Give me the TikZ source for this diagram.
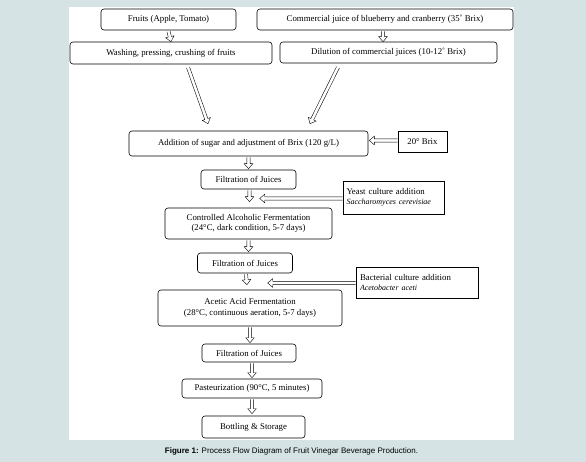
\documentclass[tikz,border=0pt]{standalone}
\usepackage{fontspec}
\setmainfont{Liberation Serif}
\newfontfamily\capfont{Liberation Sans}
\usetikzlibrary{calc}
\definecolor{bgc}{RGB}{213,227,228}
\tikzset{
  rbox/.style={draw=black, line width=0.6pt, rounded corners=3pt, inner sep=0pt, align=center,
     font=\fontsize{8.8}{10.4}\selectfont},
  sbox/.style={draw=black, line width=0.6pt, inner sep=0pt, font=\fontsize{8.8}{10.4}\selectfont},
  arrowline/.style={draw=black, line width=0.4pt, line join=miter}
}
\newcommand\harrow[2]{%
  \path (#1) coordinate (hs) (#2) coordinate (he);
  \path ($(he)!5pt!(hs)$) coordinate (hb);
  \draw[arrowline] ($(hs)!1.6pt!90:(he)$) -- ($(hb)!1.6pt!90:(he)$) -- ($(hb)!4.3pt!90:(he)$) -- (he)
     -- ($(hb)!4.3pt!-90:(he)$) -- ($(hb)!1.6pt!-90:(he)$) -- ($(hs)!1.6pt!-90:(he)$);
}
\begin{document}
\begin{tikzpicture}[x=1pt, y=-1pt]
\useasboundingbox (0,0) rectangle (586,462);
\fill[bgc] (0,0) rectangle (586,462);
\fill[white] (69,7) rectangle (514,440);

\node[rbox, minimum width=135pt, minimum height=21pt] (fruits) at (168.5,19.5) {Fruits (Apple, Tomato)};
\node[rbox, minimum width=256pt, minimum height=21pt] (comm) at (385,19.5) {Commercial juice of blueberry and cranberry (35˚ Brix)};
\node[rbox, minimum width=202pt, minimum height=22pt] (wash) at (171,53) {Washing, pressing, crushing of fruits};
\node[rbox, minimum width=217pt, minimum height=21pt] (dil) at (388.5,52.5) {Dilution of commercial juices (10-12˚ Brix)};
\node[rbox, minimum width=239pt, minimum height=25pt] (add) at (248.5,143.5) {Addition of sugar and adjustment of Brix (120 g/L)};
\node[sbox, minimum width=49pt, minimum height=21pt] (brix) at (422.5,141.5) {20° Brix};
\node[rbox, minimum width=95pt, minimum height=19pt] (filt1) at (248.5,179.5) {Filtration of Juices};
\node[sbox, minimum width=101pt, minimum height=33pt, align=left, text width=94pt] (yeast) at (393.5,197.5)
  {Yeast culture addition\\[-0.5pt]{\fontsize{8}{9.5}\selectfont\itshape Saccharomyces cerevisiae}};
\node[rbox, minimum width=167pt, minimum height=31pt] (ferm) at (248.5,223.5) {Controlled Alcoholic Fermentation\\(24°C, dark condition, 5-7 days)};
\node[rbox, minimum width=95pt, minimum height=20pt] (filt2) at (245,263) {Filtration of Juices};
\node[sbox, minimum width=122pt, minimum height=31pt, align=left, text width=114pt] (bact) at (417,282.5)
  {Bacterial culture addition\\[-0.5pt]{\fontsize{8}{9.5}\selectfont\itshape Acetobacter aceti}};
\node[rbox, minimum width=184pt, minimum height=36pt] (acet) at (250,308) {Acetic Acid Fermentation\\(28°C, continuous aeration, 5-7 days)};
\node[rbox, minimum width=94pt, minimum height=18pt] (filt3) at (249,353) {Filtration of Juices};
\node[rbox, minimum width=140pt, minimum height=19pt] (past) at (252,388.5) {Pasteurization (90°C, 5 minutes)};
\node[rbox, minimum width=103pt, minimum height=22pt] (bott) at (253.5,427) {Bottling \& Storage};

\harrow{$(fruits.south)+(0,1)$}{$(wash.north)+(0,0)$}
\harrow{$(comm.south)+(-2,1)$}{$(dil.north)+(-5.5,0)$}
\harrow{$(wash.south)+(17,3)$}{$(add.north)+(-40.5,-7)$}
\harrow{$(dil.south)+(-50.5,4)$}{$(add.north)+(61.5,-7)$}
\harrow{$(brix.west)+(0,-1)$}{$(add.east)+(1,-3)$}
\harrow{$(add.south)+(0,1)$}{$(filt1.north)+(0,-1)$}
\harrow{$(filt1.south)+(1,1)$}{$(ferm.north)+(1,-6)$}
\harrow{$(yeast.west)+(0,1)$}{$(yeast.west)+(-83,1)$}
\harrow{$(ferm.south)+(0,1)$}{$(filt2.north)+(3.5,-1)$}
\harrow{$(filt2.south)+(1,1)$}{$(acet.north)+(-3,-5)$}
\harrow{$(bact.west)+(0,0.5)$}{$(bact.west)+(-88,0.5)$}
\harrow{$(acet.south)+(0,1)$}{$(filt3.north)+(1,-1)$}
\harrow{$(filt3.south)+(3,1)$}{$(past.north)+(0,-1)$}
\harrow{$(past.south)+(0,1)$}{$(bott.north)+(-1.5,-2)$}

\node[font=\capfont\fontsize{8}{9}\selectfont, inner sep=0pt] (cap) at (291.5,451)
  {\textbf{Figure 1:} Process Flow Diagram of Fruit Vinegar Beverage Production.};
\end{tikzpicture}
\end{document}
